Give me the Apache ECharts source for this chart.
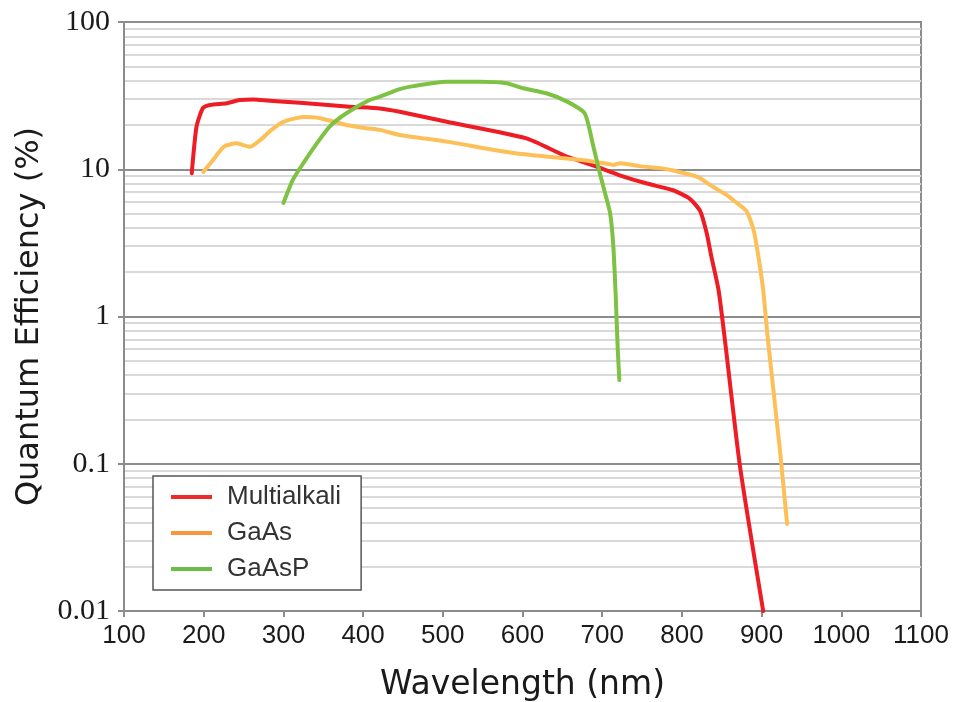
<!DOCTYPE html>
<html>
<head>
<meta charset="utf-8">
<script src="https://cdn.jsdelivr.net/npm/echarts@6/dist/echarts.min.js"></script>
<style>
html,body{margin:0;padding:0;background:#fff;}
#chart{width:958px;height:702px;}
</style>
</head>
<body>
<div id="chart"></div>
<script>
// ---- data ----
const seriesNames = ['Multialkali', 'GaAs', 'GaAsP'];

const multialkaliWl = [185, 191, 199, 208, 229, 245, 262, 271, 321, 383, 421, 446, 505, 605, 651, 693, 722, 756, 789, 810, 823, 831, 837, 846, 854, 873, 902];
const multialkaliQE = [9.4, 19.5, 26, 27.3, 28.1, 29.5, 29.8, 29.5, 28.3, 26.6, 25.9, 24.6, 21, 16.2, 12.5, 10.4, 9.1, 8.0, 7.2, 6.3, 5.2, 3.7, 2.55, 1.51, 0.69, 0.095, 0.01];

const gaasWl = [199.5, 212, 225, 241, 258, 271, 285, 300, 325, 346, 379, 404, 421, 446, 505, 588, 672, 706, 714, 722, 747, 777, 789, 819, 839, 856, 869, 881, 890, 896, 902, 908, 923, 932];
const gaasQE = [9.6, 11.6, 14.2, 15, 14.2, 15.8, 18.5, 21, 22.6, 22.2, 20, 19, 18.5, 17.1, 15.4, 12.9, 11.6, 10.9, 10.7, 11.0, 10.5, 10.1, 9.8, 8.9, 7.6, 6.7, 5.9, 5.2, 3.87, 2.55, 1.51, 0.69, 0.124, 0.039];

const gaaspWl = [300, 312, 325, 342, 358, 379, 408, 421, 446, 463, 505, 547, 580, 601, 630, 656, 678, 689, 697, 703.5, 710, 714, 717, 719.4, 721.5];
const gaaspQE = [5.9, 8.5, 11, 15, 19.5, 24, 29.5, 31.1, 35, 36.7, 39.3, 39.3, 38.4, 35.5, 32.8, 28.8, 24, 14.2, 9.4, 6.9, 5.0, 2.98, 1.36, 0.62, 0.37];

const xTicks = [100, 200, 300, 400, 500, 600, 700, 800, 900, 1000, 1100];
const yTickLabels = ['0.01', '0.1', '1', '10', '100'];
const minorGridValues = [0.02,0.03,0.04,0.05,0.06,0.07,0.08,0.09,
  0.2,0.3,0.4,0.5,0.6,0.7,0.8,0.9,
  2,3,4,5,6,7,8,9,
  20,30,40,50,60,70,80,90];

const lineColors = ['#ee1c24', '#fdc058', '#7dc243'];
const legendColors = ['#ee2b2b', '#f7963c', '#6cbd45'];

// ---- build ----
function zip(a, b) { return a.map((v, i) => [v, b[i]]); }
const seriesData = [zip(multialkaliWl, multialkaliQE), zip(gaasWl, gaasQE), zip(gaaspWl, gaaspQE)];

const chart = echarts.init(document.getElementById('chart'), null, {renderer: 'canvas'});

const series = [{
  name: '_minor',
  type: 'line',
  data: [],
  silent: true,
  z: 0,
  markLine: {
    silent: true,
    z: 0,
    symbol: 'none',
    label: {show: false},
    animation: false,
    lineStyle: {color: '#d9d9d9', width: 2, type: 'solid'},
    data: minorGridValues.map(v => ({yAxis: v}))
  }
}];
seriesNames.forEach((n, i) => {
  series.push({
    name: n,
    type: 'line',
    data: seriesData[i],
    showSymbol: false,
    symbol: 'none',
    smooth: 0.2,
    z: 5,
    lineStyle: {color: lineColors[i], width: 4, cap: 'round', join: 'round'},
    itemStyle: {color: lineColors[i]}
  });
});

chart.setOption({
  animation: false,
  backgroundColor: '#ffffff',
  grid: {left: 124, right: 37, top: 22, bottom: 91, containLabel: false, outerBoundsMode: 'none',
    show: true, borderColor: '#8c8c8c', borderWidth: 2},
  legend: {
    orient: 'vertical',
    left: 153,
    top: 476,
    z: 20,
    data: seriesNames.map((n, i) => ({name: n, itemStyle: {color: legendColors[i]}, icon: 'rect'})),
    icon: 'rect',
    itemWidth: 41,
    itemHeight: 4,
    itemGap: 10,
    backgroundColor: '#ffffff',
    borderColor: '#555555',
    borderWidth: 1.5,
    padding: [8, 20, 8, 18],
    textStyle: {fontFamily: 'Liberation Sans', fontSize: 26, color: '#333333', lineHeight: 26, padding: [0, 0, 0, 10]}
  },
  xAxis: {
    type: 'value',
    min: 100,
    max: 1100,
    interval: 100,
    name: 'Wavelength (nm)',
    nameLocation: 'middle',
    nameGap: 58,
    nameTextStyle: {fontFamily: 'DejaVu Sans', fontSize: 33, color: '#1a1a1a'},
    axisLine: {show: true, lineStyle: {color: '#8c8c8c', width: 2}},
    axisTick: {show: true, inside: false, length: 6, lineStyle: {color: '#8c8c8c', width: 2}},
    axisLabel: {fontFamily: 'Liberation Sans', fontSize: 26, color: '#1a1a1a', margin: 12,
      formatter: function (v) { return String(Math.round(v)); }},
    splitLine: {show: false}
  },
  yAxis: {
    type: 'log',
    logBase: 10,
    min: 0.01,
    max: 100,
    name: 'Quantum Efficiency (%)',
    nameLocation: 'middle',
    nameGap: 78,
    nameTextStyle: {fontFamily: 'DejaVu Sans', fontSize: 32, color: '#1a1a1a'},
    axisLine: {show: true, lineStyle: {color: '#8c8c8c', width: 2}},
    axisTick: {show: true, inside: false, length: 6, lineStyle: {color: '#8c8c8c', width: 2}},
    axisLabel: {
      fontFamily: 'Liberation Serif', fontSize: 30, color: '#1a1a1a', margin: 14,
      formatter: function (v) {
        const k = Math.round(Math.log10(v)) + 2;
        return yTickLabels[k] !== undefined ? yTickLabels[k] : '';
      }
    },
    splitLine: {show: true, lineStyle: {color: '#8c8c8c', width: 2}}
  },
  series: series
});
</script>
</body>
</html>
